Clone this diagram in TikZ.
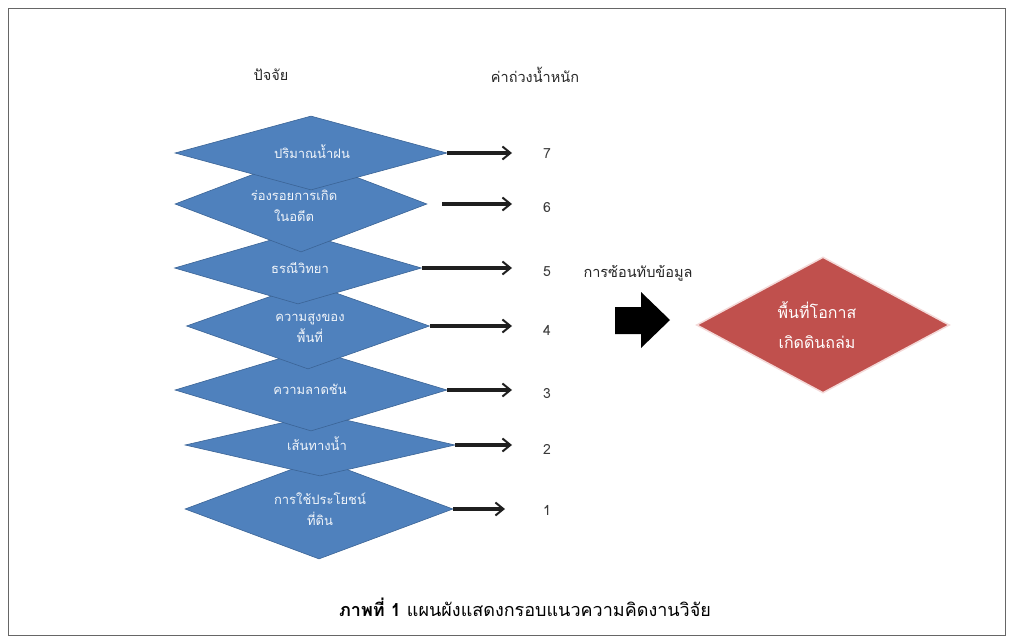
\documentclass[tikz,border=0pt]{standalone}
\usepackage{fontspec}
\setmainfont{Liberation Sans}
\newfontfamily\thai[Script=Thai]{Loma}
\usetikzlibrary{shapes.geometric,arrows.meta}
\definecolor{dblue}{HTML}{4F81BD}
\definecolor{dblueedge}{HTML}{3B6496}
\definecolor{dred}{HTML}{C0504D}
\definecolor{dredglow}{HTML}{F4D9D8}
\definecolor{numgray}{HTML}{3A3A3A}
\tikzset{
  factor/.style={diamond,fill=dblue,draw=dblueedge,line width=0.6pt,inner sep=0pt,minimum width=#1},
  ftext/.style={text=white!92!dblue,font=\thai\fontsize{13}{21}\selectfont,align=center},
  warrow/.style={-{Straight Barb[length=8pt,width=13pt,line width=2pt]},line width=3.2pt,black!88},
  wnum/.style={text=numgray,font=\thai\fontsize{14}{16}\selectfont},
  header/.style={text=black!85,font=\thai\fontsize{14.5}{16}\selectfont},
  resultbox/.style={diamond,fill=dred,draw=dredglow,line width=1.5pt,inner sep=0pt},
}
\begin{document}
\begin{tikzpicture}[x=1pt,y=-1pt]
\useasboundingbox (0,0) rectangle (1014,642);
\draw[black!60,line width=0.8pt] (8,8) rectangle (1005,635);
% headers
\node[header] (hf) at (271,75) {ปัจจัย};
\node[header] (hw) at (535,75) {ค่าถ่วงน้ำหนัก};
% factor diamonds (bottom first so upper ones overlap)
\node[factor=268pt,minimum height=100pt] (d7) at (319,509) {};
\node[factor=270pt,minimum height=62pt] (d6) at (320,445) {};
\node[factor=272pt,minimum height=82pt] (d5) at (311,390) {};
\node[factor=243pt,minimum height=86pt] (d4) at (308,326) {};
\node[factor=247pt,minimum height=72pt] (d3) at (298,268) {};
\node[factor=252pt,minimum height=96pt] (d2) at (301,204) {};
\node[factor=272pt,minimum height=74pt] (d1) at (311,153) {};
% factor texts
\node[ftext] (t1) at (312,152) {ปริมาณน้ำฝน};
\node[ftext] (t2) at (294,206) {ร่องรอยการเกิด\\ในอดีต};
\node[ftext] (t3) at (300,268) {ธรณีวิทยา};
\node[ftext] (t4) at (310,328) {ความสูงของ\\พื้นที่};
\node[ftext] (t5) at (310,389) {ความลาดชัน};
\node[ftext] (t6) at (317,444) {เส้นทางน้ำ};
\node[ftext] (t7) at (320,509) {การใช้ประโยชน์\\ที่ดิน};
% weights
\node[wnum] (n7) at (547,154) {7};
\node[wnum] (n6) at (547,208) {6};
\node[wnum] (n5) at (547,272) {5};
\node[wnum] (n4) at (547,330) {4};
\node[wnum] (n3) at (547,394) {3};
\node[wnum] (n2) at (547,449) {2};
\node[wnum] (n1) at (547,510) {1};
% arrows
\coordinate (s2) at (442,204);
\coordinate (e7) at (512,153);
\coordinate (e6) at (512,204);
\coordinate (e5) at (512,268);
\coordinate (e4) at (512,326);
\coordinate (e3) at (512,390);
\coordinate (e2) at (512,445);
\coordinate (e1) at (505,509);
\draw[warrow] (d1.east) -- (e7);
\draw[warrow] (s2) -- (e6);
\draw[warrow] (d3.east) -- (e5);
\draw[warrow] (d4.east) -- (e4);
\draw[warrow] (d5.east) -- (e3);
\draw[warrow] (d6.east) -- (e2);
\draw[warrow] (d7.east) -- (e1);
% overlay label and block arrow
\node[header] (ov) at (638,273) {การซ้อนทับข้อมูล};
\fill[black] (615,307) -- (641,307) -- (641,292) -- (670,320) -- (641,348) -- (641,334) -- (615,334) -- cycle;
% result
\node[resultbox,minimum width=253pt,minimum height=136pt] (res) at (823,325) {};
\node[text=white,font=\thai\fontsize{16}{30}\selectfont,align=center] (rt) at (817,325) {พื้นที่โอกาส\\เกิดดินถล่ม};
% caption
\node[font=\thai\fontsize{18}{20}\selectfont,text=black] (cap) at (525,607) {\textbf{ภาพที่ 1} แผนผังแสดงกรอบแนวความคิดงานวิจัย};
\end{tikzpicture}
\end{document}
